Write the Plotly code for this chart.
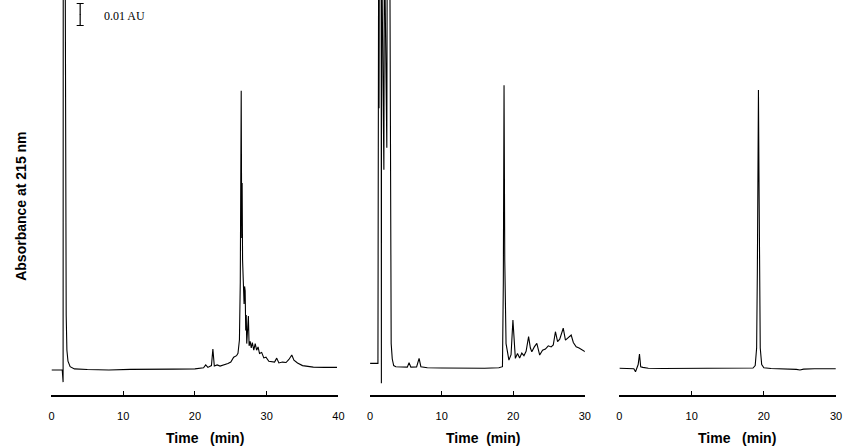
import plotly.graph_objects as go

# ---------------- data (time in min, absorbance in mAU relative to baseline) ----------------
p1_t = [0.0, 1.5, 1.62, 1.64, 1.90, 1.98, 2.05, 2.15, 2.3, 2.6, 3.2, 5.0, 8.0, 11.0, 14.0, 17.0,
        20.0, 21.2, 21.5, 21.8, 22.3, 22.5, 22.7, 23.1, 23.5, 24.0, 24.6, 25.0, 25.4, 25.8, 26.0,
        26.2, 26.32, 26.45, 26.52, 26.58, 26.64, 26.7, 26.78, 26.85, 26.92, 27.0, 27.08, 27.15,
        27.22, 27.3, 27.45, 27.55, 27.7, 27.85, 28.0, 28.2, 28.4, 28.6, 28.8, 29.0, 29.3, 29.6,
        29.9, 30.3, 30.7, 31.1, 31.4, 31.7, 32.2, 32.7, 33.1, 33.5, 33.8, 34.3, 35.0, 35.5, 36.5,
        38.0, 39.8]
p1_a = [0.0, 0.0, -5.5, 200, 200, 60, 25, 9, 4, 1.5, 0.5, 0.2, 0.0, 0.3, 0.2, 0.4,
        0.5, 1.0, 2.3, 1.2, 2.0, 9.5, 1.8, 2.3, 1.8, 2.2, 3.0, 3.6, 5.8, 6.5, 7.6,
        13.6, 40, 127, 60, 85, 50, 45, 39, 30, 38, 36, 18, 25,
        12, 15, 24.5, 11, 13, 10, 12.5, 9, 12, 9, 10.5, 7.5, 8, 5.5,
        5.8, 4, 3.8, 3.6, 5.4, 3.2, 3.6, 3.4, 4.8, 6.8, 4.5, 3.2, 2, 1.8, 1.3,
        1.2, 1.2]

p2_t = [0.0, 1.1, 1.2, 1.25, 1.3, 1.55, 1.58, 1.6, 1.93, 2.0, 2.34, 2.4, 2.75, 2.85, 2.95, 3.1,
        3.3, 3.6, 4.5, 5.2, 5.45, 5.7, 6.5, 6.85, 7.1, 8.0, 10.0, 12.0, 14.0, 16.0, 18.0, 18.5,
        18.62, 18.72, 18.82, 19.0, 19.4, 19.7, 19.96, 20.15, 20.3, 20.6, 20.9, 21.2, 21.5, 21.8,
        22.15, 22.4, 22.6, 22.95, 23.3, 23.7, 24.1, 24.5, 24.9, 25.3, 25.6, 25.9, 26.2, 26.5,
        26.99, 27.3, 27.6, 28.1, 28.4, 28.8, 29.2, 29.7, 30.4]
p2_a = [3, 3, 200, 119, 200, 200, -6, 200, 91, 200, 101, 200, 200, 40, 12, 5,
        2, 1.5, 1.2, 1.3, 3.3, 1.3, 1.4, 5.3, 1.5, 1.0, 0.9, 0.8, 0.9, 0.8, 1.0, 1.5,
        40, 129.5, 50, 12, 4.5, 7, 22.7, 9, 5.3, 7.5, 5.5, 7.7, 6.5, 8.5,
        15.2, 10, 8.3, 10.5, 12.1, 6.8, 9, 9.5, 11, 10.5, 11.4, 17.4, 12.9, 14,
        19, 13.6, 14.5, 15.9, 12.5, 10.6, 10, 9.1, 7.6]

p3_t = [0.0, 1.6, 2.0, 2.23, 2.4, 2.6, 2.78, 2.95, 3.25, 4.0, 6.0, 9.0, 12.0, 15.0, 17.5, 18.5,
        18.8, 19.0, 19.1, 19.2, 19.25, 19.32, 19.4, 19.5, 19.7, 20.0, 21.0, 23.0, 24.5, 25.0,
        25.5, 27.0, 29.95]
p3_a = [0.8, 0.8, 0.6, -0.8, 1.0, 2.5, 7.3, 1.5, 1.2, 0.8, 0.7, 0.8, 0.7, 0.8, 0.8, 0.9,
        2.0, 10, 45, 100, 127.3, 90, 40, 10, 2.5, 1.0, 0.7, 0.6, 0.3, 0.0,
        0.4, 0.6, 0.6]

ticks_40 = [0, 10, 20, 30, 40]
ticks_30 = [0, 10, 20, 30]

scale_bar_t = [4.0]       # min (panel 1)
scale_bar_mid = [161.6]   # mAU
scale_bar_half = 5.0      # 0.01 AU = 10 mAU
scale_label = "0.01 AU"
x_title_1 = "<b>Time\u00a0\u00a0\u00a0(min)</b>"
x_title_2 = "<b>Time\u00a0\u00a0(min)</b>"
x_title_3 = "<b>Time\u00a0\u00a0\u00a0(min)</b>"
y_title = "<b>Absorbance at 215 nm</b>"

# ---------------- figure ----------------
W, H = 850, 448
Y_MIN, Y_MAX = -11.36, 168.2

fig = go.Figure()
line = dict(color="black", width=1.1)
for t, a, xa, ya in [(p1_t, p1_a, "x", "y"), (p2_t, p2_a, "x2", "y2"), (p3_t, p3_a, "x3", "y3")]:
    fig.add_trace(go.Scatter(x=t, y=a, mode="lines", line=line, xaxis=xa, yaxis=ya,
                             hoverinfo="skip", showlegend=False))

fig.add_trace(go.Scatter(x=scale_bar_t, y=scale_bar_mid, mode="markers",
                         marker=dict(size=1, color="black"),
                         error_y=dict(type="constant", value=scale_bar_half, width=3.5,
                                      thickness=1.2, color="black"),
                         xaxis="x", yaxis="y", hoverinfo="skip", showlegend=False))

tickfont = dict(family="Arial, Liberation Sans, sans-serif", size=11, color="black")
titlefont = dict(family="Arial, Liberation Sans, sans-serif", size=14, color="black")


def xax(dom, rng, tv):
    return dict(domain=[dom[0] / W, dom[1] / W], range=rng,
                showline=True, linecolor="black",
                linewidth=1.5, ticks="inside", ticklen=4, tickwidth=1.3, tickcolor="black",
                tickvals=tv, tickfont=tickfont, showgrid=False, zeroline=False,
                ticklabelstandoff=10, ticklabeloverflow="allow")


def yax(anchor):
    return dict(domain=[(H - 395) / H, 1], range=[Y_MIN, Y_MAX], visible=False,
                anchor=anchor, showgrid=False, zeroline=False)


def title_ann(text, cx):
    return dict(text=text, x=cx / W, y=1 - 438 / H, xref="paper", yref="paper",
                xanchor="center", yanchor="middle", showarrow=False, font=titlefont)


fig.update_layout(
    width=W, height=H, margin=dict(l=0, r=0, t=0, b=0),
    paper_bgcolor="white", plot_bgcolor="white",
    xaxis=dict(**xax((49, 339), [0, 40], ticks_40), anchor="y"),
    xaxis2=dict(**xax((371, 588), [0, 30], ticks_30), anchor="y2"),
    xaxis3=dict(**xax((623, 842), [0, 30], ticks_30), anchor="y3"),
    yaxis=yax("x"), yaxis2=yax("x2"), yaxis3=yax("x3"),
    annotations=[
        dict(text=y_title, x=17.5 / W, y=1 - 206.5 / H,
             xref="paper", yref="paper", xanchor="center", yanchor="middle",
             textangle=-90, showarrow=False,
             font=dict(family="Arial, Liberation Sans, sans-serif", size=14, color="black")),
        dict(text=scale_label, x=7.1, y=161.0, xref="x", yref="y", xanchor="left",
             yanchor="middle", showarrow=False,
             font=dict(family="Liberation Serif, Times New Roman, serif", size=12, color="black")),
        title_ann(x_title_1, 204),
        title_ann(x_title_2, 485),
        title_ann(x_title_3, 741.5),
    ],
)

# remove the default 8px page margin so the 850x448 figure fills the window exactly
fig.write_html("out.html", config={"displayModeBar": False},
               post_script="document.body.style.margin='0';"
                           "document.body.style.overflow='hidden';")
